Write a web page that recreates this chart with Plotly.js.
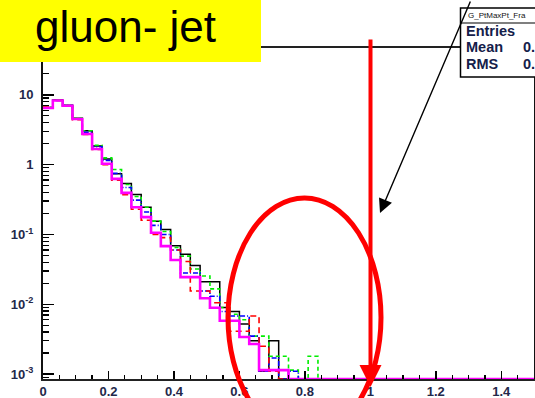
<!DOCTYPE html>
<html><head><meta charset="utf-8">
<script src="https://cdn.plot.ly/plotly-3.0.1.min.js"></script>
<style>html,body{margin:0;padding:0;background:#fff;overflow:hidden}#chart{width:535px;height:398px}</style>
</head><body><div id="chart"></div>
<script>
// histogram binning (x = leading-particle pT fraction), 50 bins of 0.03 from 0 to 1.5
const binWidth = 0.03;
const xTickVals = [0, 0.2, 0.4, 0.6, 0.8, 1, 1.2, 1.4];
const xTickText = ["0", "0.2", "0.4", "0.6", "0.8", "1", "1.2", "1.4"];
const yTickVals = [0.001, 0.01, 0.1, 1, 10];
const yTickText = ["10<sup>-3</sup>", "10<sup>-2</sup>", "10<sup>-1</sup>", "1", "10"];

const blackHist = [6.6, 8.4, 7.1, 4.6, 3.06, 1.85, 1.2, 0.743, 0.535, 0.373,
  0.245, 0.155, 0.118, 0.069, 0.052, 0.036, 0.021, 0.021, 0.009, 0.0079,
  0.0052, 0.003, 0.0011, 0.003, 0, 0, 0, 0, 0, 0,
  0, 0, 0, 0, 0, 0, 0, 0, 0, 0,
  0, 0, 0, 0, 0, 0, 0, 0, 0, 0];
const greenHist = [6.6, 8.5, 7.0, 4.6, 3.06, 1.89, 1.25, 0.85, 0.52, 0.35,
  0.245, 0.155, 0.11, 0.065, 0.049, 0.032, 0.0254, 0.0166, 0.009, 0.0072,
  0.006, 0.0035, 0.0035, 0.0018, 0.0018, 0.00114, 0, 0.0018, 0, 0,
  0, 0, 0, 0, 0, 0, 0, 0, 0, 0,
  0, 0, 0, 0, 0, 0, 0, 0, 0, 0];
const blueHist = [6.5, 8.3, 7.0, 4.5, 2.9, 1.8, 1.15, 0.75, 0.47, 0.31,
  0.21, 0.135, 0.1, 0.06, 0.028, 0.028, 0.0155, 0.013, 0.0079, 0.0068,
  0.0068, 0.0035, 0.0011, 0.0017, 0, 0.0011, 0, 0, 0, 0,
  0, 0, 0, 0, 0, 0, 0, 0, 0, 0,
  0, 0, 0, 0, 0, 0, 0, 0, 0, 0];
const redHist = [6.7, 8.3, 6.9, 4.4, 2.7, 1.65, 1.0, 0.6, 0.37, 0.23,
  0.16, 0.1, 0.09, 0.06, 0.041, 0.0155, 0.0155, 0.0105, 0.0105, 0.0041,
  0.0041, 0.0068, 0.0025, 0.0011, 0, 0, 0, 0, 0, 0,
  0, 0, 0, 0, 0, 0, 0, 0, 0, 0,
  0, 0, 0, 0, 0, 0, 0, 0, 0, 0];
const magentaHist = [6.46, 8.29, 6.96, 4.5, 2.75, 1.67, 1.03, 0.625, 0.394, 0.245,
  0.177, 0.106, 0.068, 0.043, 0.0245, 0.0245, 0.0122, 0.0089, 0.0058, 0.0058,
  0.0034, 0.0027, 0.00114, 0.00114, 0.00114, 0, 0, 0, 0, 0,
  0, 0, 0, 0, 0, 0, 0, 0, 0, 0,
  0, 0, 0, 0, 0, 0, 0, 0, 0, 0];

const statsTitle = "G_PtMaxPt_Fra";
const statsLabels = ["Entries", "Mean", "RMS"];
const statsValues = ["", "0.", "0."];
const headline = "gluon- jet";

// ---------- layout geometry ----------
const W = 535, H = 398;
const L = 43, R = 534, T = 48, B = 379;
const yRange = [-3.07, 1.67];
const floorVal = Math.pow(10, yRange[0]);
const px = p => (p - L) / (R - L);
const py = p => (B - p) / (B - T);

function stepTrace(vals, color, width, dash) {
  const x = [], y = [];
  for (let i = 0; i < vals.length; i++) {
    x.push(i * binWidth);
    y.push(vals[i] > 0 ? vals[i] : floorVal);
  }
  x.push(vals.length * binWidth);
  y.push(y[y.length - 1]);
  return {x, y, type: 'scatter', mode: 'lines', line: {shape: 'hv', color, width, dash},
    hoverinfo: 'skip', showlegend: false, cliponaxis: true};
}

const traces = [
  stepTrace(blackHist, '#000000', 1.5, 'solid'),
  stepTrace(greenHist, '#00ee00', 1.6, '4px,3px'),
  stepTrace(blueHist, '#0000ff', 1.6, '5px,2px,1px,2px'),
  stepTrace(redHist, '#ff0000', 1.6, '6px,4px'),
  stepTrace(magentaHist, '#ff00ff', 2.6, 'solid')
];

const labelFont = {family: 'Liberation Sans, Arial, sans-serif', size: 13, color: '#23284a', weight: 'bold'};
const statFont = {family: 'Liberation Sans, Arial, sans-serif', size: 14.5, color: '#14204a', weight: 'bold'};

const annotations = [
  {xref: 'paper', yref: 'paper', x: px(125), y: py(27), text: headline, showarrow: false,
   xanchor: 'center', yanchor: 'middle', font: {family: 'Liberation Sans, Arial, sans-serif', size: 44, color: '#000'}},
  {xref: 'paper', yref: 'paper', x: px(466), y: py(15.5), text: statsTitle, showarrow: false,
   xanchor: 'left', yanchor: 'middle', font: {family: 'Liberation Sans, Arial, sans-serif', size: 8, color: '#111'}},
];
const statY = [31, 47.5, 64];
statsLabels.forEach((lab, i) => {
  annotations.push({xref: 'paper', yref: 'paper', x: px(464), y: py(statY[i]), text: lab, showarrow: false,
    xanchor: 'left', yanchor: 'middle', font: statFont});
  if (statsValues[i]) annotations.push({xref: 'paper', yref: 'paper', x: px(521), y: py(statY[i]), text: statsValues[i], showarrow: false,
    xanchor: 'left', yanchor: 'middle', font: statFont});
});
// black pointer arrow
annotations.push({xref: 'paper', yref: 'paper', x: px(380), y: py(213), ax: 471 - 380, ay: -4 - 213,
  text: '', showarrow: true, arrowhead: 2, arrowsize: 2, arrowwidth: 1.4, arrowcolor: '#000', standoff: 0});
// red vertical arrow
annotations.push({xref: 'paper', yref: 'paper', x: px(370.5), y: py(387), ax: 0, ay: 38 - 387,
  text: '', showarrow: true, arrowhead: 2, arrowsize: 1.1, arrowwidth: 4, arrowcolor: '#ff0000', standoff: 0});

const shapes = [
  {type: 'rect', xref: 'paper', yref: 'paper', x0: px(-5), x1: px(261), y0: py(62), y1: py(-5),
   fillcolor: '#ffff00', line: {width: 0}, layer: 'above'},
  {type: 'rect', xref: 'paper', yref: 'paper', x0: px(460.5), x1: px(560), y0: py(77), y1: py(8),
   fillcolor: '#ffffff', line: {color: '#000', width: 1.5}, layer: 'above'},
  {type: 'line', xref: 'paper', yref: 'paper', x0: px(460.5), x1: px(560), y0: py(23), y1: py(23),
   line: {color: '#000', width: 1.2}, layer: 'above'},
  {type: 'circle', xref: 'paper', yref: 'paper', x0: px(228), x1: px(381), y0: py(437), y1: py(198),
   line: {color: '#ff0000', width: 5}, layer: 'above'}
];

const layout = {
  width: W, height: H,
  margin: {l: L, r: W - R, t: T, b: H - B, pad: 0},
  paper_bgcolor: '#fff', plot_bgcolor: '#fff',
  showlegend: false,
  xaxis: {range: [0, 1.5], showgrid: false, zeroline: false, showline: true, linecolor: '#222', linewidth: 2, mirror: true,
    tickmode: 'array', tickvals: xTickVals, ticktext: xTickText, ticks: 'inside', ticklen: 8, tickwidth: 1.5, tickcolor: '#000',
    tickfont: labelFont, ticklabelstandoff: -1,
    minor: {ticks: 'inside', ticklen: 4, tickwidth: 1.3, tickcolor: '#000', dtick: 0.05, tick0: 0, showgrid: false}},
  yaxis: {type: 'log', range: yRange, showgrid: false, zeroline: false, showline: true, linecolor: '#111', linewidth: 2, mirror: true,
    tickmode: 'array', tickvals: yTickVals, ticktext: yTickText, ticks: 'inside', ticklen: 11, tickwidth: 1.5, tickcolor: '#000',
    tickfont: labelFont, ticklabelstandoff: 5,
    minor: {ticks: 'inside', ticklen: 6, tickwidth: 1.3, tickcolor: '#000', dtick: 'D1', showgrid: false}},
  shapes, annotations
};

Plotly.newPlot('chart', traces, layout, {staticPlot: true, displayModeBar: false});
</script>
</body></html>
